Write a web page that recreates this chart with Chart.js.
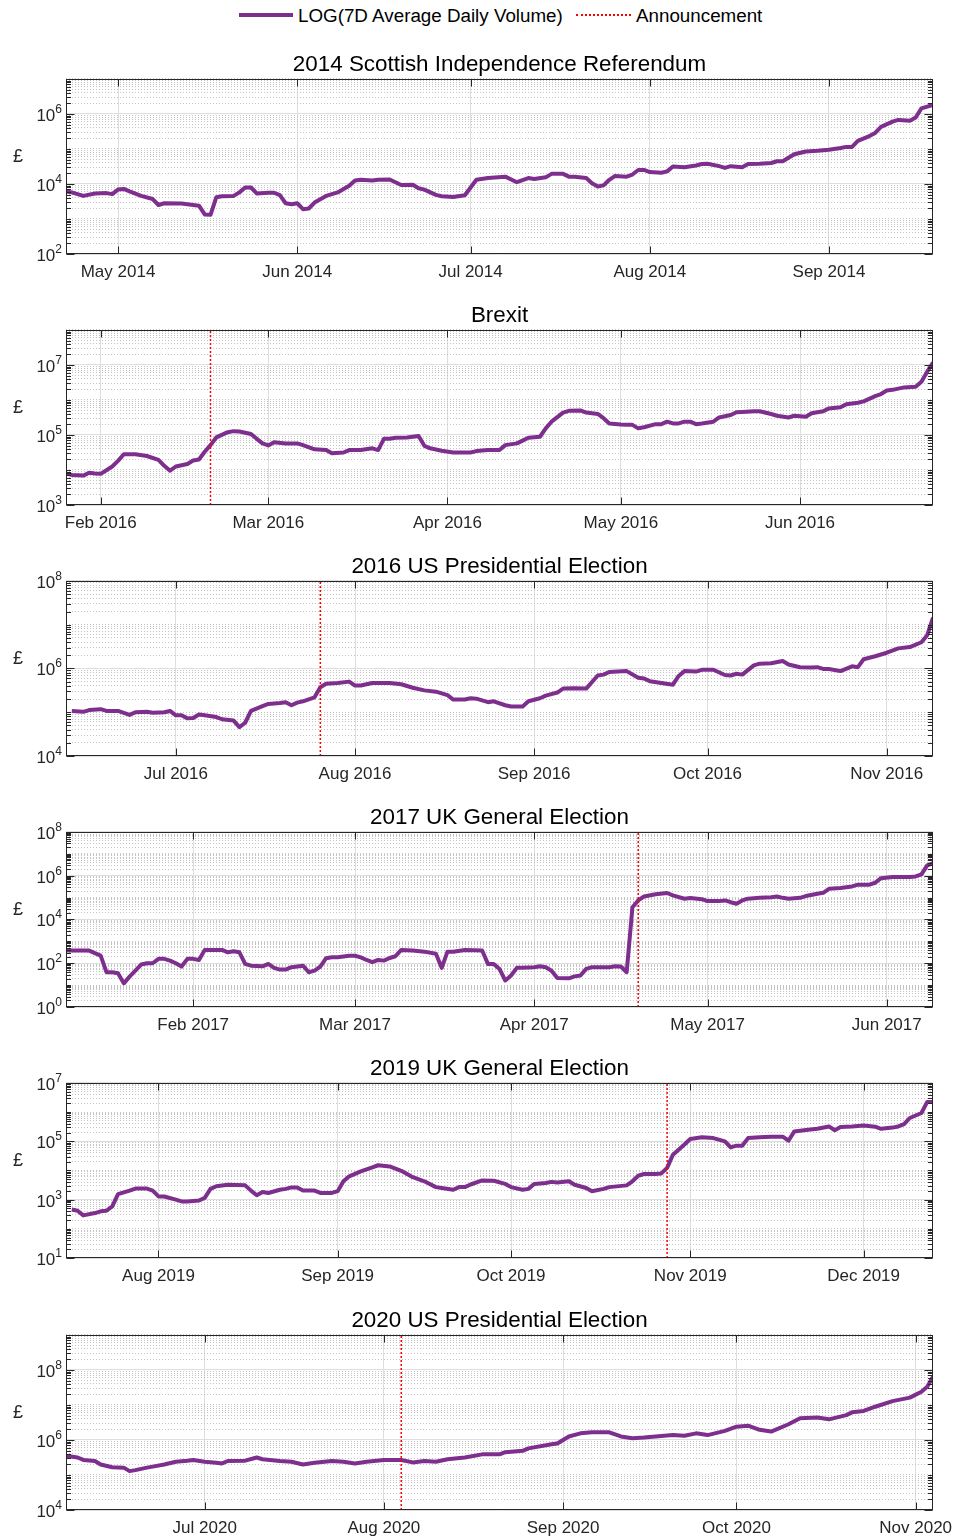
<!DOCTYPE html>
<html>
<head>
<meta charset="utf-8">
<title>Volume around announcements</title>
<script src="https://cdn.jsdelivr.net/npm/chart.js@4.4.1/dist/chart.umd.min.js"></script>
<style>
  html, body { margin: 0; padding: 0; background: #fff; }
  body { width: 955px; height: 1539px; position: relative; overflow: hidden;
         font-family: 'Liberation Sans', Arial, Helvetica, sans-serif; color: #000; }
  .panel { position: absolute; left: 0; width: 955px; height: 251px; }
  .swatch { position: absolute; }
  .lbl { position: absolute; top: 6px; font-size: 18.8px; line-height: 20px; white-space: nowrap; }
</style>
</head>
<body>
<div id="legend">
  <span class="swatch" style="left:239px; top:13px; width:54px; height:0; border-top:4px solid #7E2F8E;"></span>
  <span class="lbl" style="left:298px;">LOG(7D Average Daily Volume)</span>
  <span class="swatch" style="left:576px; top:14px; width:55px; height:0; border-top:2px dotted #FF0000;"></span>
  <span class="lbl" style="left:636px;">Announcement</span>
</div>
<div id="charts"></div>
<script>
(function() {
  'use strict';

  // ── Data (log10 of 7-day average daily volume, £) ───────────
  const panelTitles = [
    '2014 Scottish Independence Referendum',
    'Brexit',
    '2016 US Presidential Election',
    '2017 UK General Election',
    '2019 UK General Election',
    '2020 US Presidential Election'
  ];
  const xRanges = [
    ['2014-04-22', '2014-09-19'],
    ['2016-01-26', '2016-06-24'],
    ['2016-06-12', '2016-11-09'],
    ['2017-01-10', '2017-06-09'],
    ['2019-07-16', '2019-12-13'],
    ['2020-06-07', '2020-11-04']
  ];
  const yExpRanges = [[2, 7], [3, 8], [4, 8], [0, 8], [1, 7], [4, 9]];
  const yTickExps = [[2, 4, 6], [3, 5, 7], [4, 6, 8], [0, 2, 4, 6, 8], [1, 3, 5, 7], [4, 6, 8]];
  const announceDates = [null, '2016-02-20', '2016-07-26', '2017-04-19', '2019-10-28', '2020-08-04'];

  const scotDates = ['2014-04-22','2014-04-23','2014-04-25','2014-04-27','2014-04-29','2014-04-30','2014-05-01','2014-05-02','2014-05-03','2014-05-05',
    '2014-05-07','2014-05-08','2014-05-09','2014-05-12','2014-05-13','2014-05-15','2014-05-16','2014-05-17','2014-05-18','2014-05-19',
    '2014-05-21','2014-05-22','2014-05-23','2014-05-24','2014-05-25','2014-05-27','2014-05-28','2014-05-29','2014-05-30','2014-05-31',
    '2014-06-01','2014-06-02','2014-06-03','2014-06-04','2014-06-06','2014-06-08','2014-06-10','2014-06-11','2014-06-12','2014-06-14',
    '2014-06-15','2014-06-17','2014-06-18','2014-06-19','2014-06-21','2014-06-22','2014-06-23','2014-06-25','2014-06-26','2014-06-28',
    '2014-06-30','2014-07-01','2014-07-02','2014-07-04','2014-07-07','2014-07-09','2014-07-11','2014-07-12','2014-07-14','2014-07-15',
    '2014-07-17','2014-07-18','2014-07-19','2014-07-21','2014-07-22','2014-07-23','2014-07-24','2014-07-25','2014-07-26','2014-07-28',
    '2014-07-29','2014-07-30','2014-07-31','2014-08-01','2014-08-03','2014-08-04','2014-08-05','2014-08-07','2014-08-09','2014-08-10',
    '2014-08-11','2014-08-13','2014-08-14','2014-08-15','2014-08-17','2014-08-18','2014-08-20','2014-08-22','2014-08-23','2014-08-24',
    '2014-08-25','2014-08-26','2014-08-28','2014-08-30','2014-09-01','2014-09-03','2014-09-04','2014-09-05','2014-09-06','2014-09-08',
    '2014-09-09','2014-09-10','2014-09-12','2014-09-13','2014-09-15','2014-09-16','2014-09-17','2014-09-19'];
  const scotLogVol = [3.79,3.76,3.66,3.73,3.74,3.71,3.84,3.86,3.79,3.66,
    3.57,3.40,3.45,3.44,3.42,3.38,3.13,3.12,3.62,3.65,
    3.66,3.76,3.90,3.90,3.73,3.75,3.75,3.68,3.45,3.42,
    3.45,3.28,3.30,3.47,3.66,3.76,3.95,4.10,4.12,4.10,
    4.12,4.13,4.05,3.97,3.98,3.88,3.84,3.69,3.65,3.63,
    3.68,3.90,4.12,4.17,4.21,4.05,4.17,4.14,4.19,4.29,
    4.29,4.21,4.21,4.17,4.02,3.93,3.96,4.12,4.23,4.21,
    4.27,4.40,4.40,4.34,4.32,4.36,4.50,4.48,4.53,4.57,
    4.58,4.51,4.46,4.51,4.48,4.57,4.58,4.60,4.65,4.65,
    4.75,4.85,4.93,4.95,4.98,5.03,5.06,5.06,5.23,5.37,
    5.46,5.63,5.78,5.83,5.81,5.90,6.16,6.26];

  const brexitDates = ['2016-01-26','2016-01-27','2016-01-29','2016-01-30','2016-01-31','2016-02-01','2016-02-03','2016-02-04','2016-02-05','2016-02-07',
    '2016-02-09','2016-02-11','2016-02-12','2016-02-13','2016-02-14','2016-02-16','2016-02-17','2016-02-18','2016-02-19','2016-02-20',
    '2016-02-21','2016-02-23','2016-02-24','2016-02-25','2016-02-27','2016-02-28','2016-02-29','2016-03-01','2016-03-02','2016-03-04',
    '2016-03-06','2016-03-07','2016-03-09','2016-03-11','2016-03-12','2016-03-14','2016-03-15','2016-03-17','2016-03-19','2016-03-20',
    '2016-03-21','2016-03-22','2016-03-23','2016-03-25','2016-03-27','2016-03-28','2016-03-29','2016-03-31','2016-04-02','2016-04-03',
    '2016-04-05','2016-04-06','2016-04-08','2016-04-10','2016-04-11','2016-04-13','2016-04-14','2016-04-15','2016-04-17','2016-04-18',
    '2016-04-19','2016-04-21','2016-04-22','2016-04-24','2016-04-25','2016-04-27','2016-04-28','2016-04-29','2016-05-01','2016-05-02',
    '2016-05-03','2016-05-04','2016-05-05','2016-05-07','2016-05-08','2016-05-09','2016-05-10','2016-05-11','2016-05-12','2016-05-13',
    '2016-05-14','2016-05-15','2016-05-17','2016-05-18','2016-05-20','2016-05-21','2016-05-22','2016-05-24','2016-05-25','2016-05-27',
    '2016-05-28','2016-05-30','2016-05-31','2016-06-02','2016-06-03','2016-06-05','2016-06-06','2016-06-08','2016-06-09','2016-06-11',
    '2016-06-12','2016-06-14','2016-06-15','2016-06-16','2016-06-17','2016-06-19','2016-06-21','2016-06-22','2016-06-23','2016-06-24'];
  const brexitLogVol = [3.90,3.86,3.84,3.92,3.90,3.89,4.10,4.26,4.45,4.45,
    4.40,4.29,4.12,3.98,4.10,4.17,4.27,4.30,4.52,4.71,
    4.93,5.08,5.11,5.10,5.03,4.89,4.76,4.70,4.79,4.76,
    4.76,4.71,4.59,4.57,4.48,4.50,4.57,4.57,4.62,4.57,
    4.89,4.89,4.92,4.93,4.97,4.69,4.62,4.55,4.50,4.50,
    4.50,4.54,4.57,4.57,4.71,4.76,4.84,4.92,4.95,5.19,
    5.38,5.64,5.69,5.70,5.64,5.60,5.48,5.33,5.30,5.29,
    5.29,5.19,5.22,5.31,5.31,5.38,5.33,5.33,5.38,5.38,
    5.31,5.33,5.38,5.50,5.57,5.65,5.66,5.68,5.68,5.60,
    5.55,5.50,5.55,5.52,5.62,5.68,5.76,5.79,5.88,5.92,
    5.96,6.11,6.17,6.27,6.29,6.36,6.38,6.52,6.81,7.07];

  const us16Dates = ['2016-06-13','2016-06-15','2016-06-16','2016-06-18','2016-06-19','2016-06-21','2016-06-23','2016-06-24','2016-06-26','2016-06-27',
    '2016-06-29','2016-06-30','2016-07-01','2016-07-02','2016-07-03','2016-07-04','2016-07-05','2016-07-06','2016-07-08','2016-07-09',
    '2016-07-11','2016-07-12','2016-07-13','2016-07-14','2016-07-16','2016-07-17','2016-07-19','2016-07-20','2016-07-21','2016-07-22',
    '2016-07-23','2016-07-25','2016-07-26','2016-07-27','2016-07-29','2016-07-31','2016-08-01','2016-08-02','2016-08-04','2016-08-07',
    '2016-08-09','2016-08-11','2016-08-13','2016-08-15','2016-08-17','2016-08-18','2016-08-20','2016-08-21','2016-08-22','2016-08-24',
    '2016-08-25','2016-08-27','2016-08-28','2016-08-30','2016-08-31','2016-09-02','2016-09-03','2016-09-05','2016-09-06','2016-09-08',
    '2016-09-10','2016-09-12','2016-09-13','2016-09-14','2016-09-17','2016-09-19','2016-09-20','2016-09-21','2016-09-23','2016-09-25',
    '2016-09-26','2016-09-27','2016-09-29','2016-09-30','2016-10-02','2016-10-04','2016-10-05','2016-10-06','2016-10-07','2016-10-09',
    '2016-10-10','2016-10-12','2016-10-14','2016-10-15','2016-10-17','2016-10-19','2016-10-20','2016-10-21','2016-10-22','2016-10-24',
    '2016-10-26','2016-10-27','2016-10-28','2016-10-30','2016-11-01','2016-11-03','2016-11-05','2016-11-07','2016-11-08','2016-11-09'];
  const us16LogVol = [5.03,5.01,5.05,5.07,5.03,5.03,4.94,5.00,5.01,4.99,
    5.00,5.03,4.93,4.93,4.86,4.87,4.95,4.93,4.89,4.84,
    4.81,4.66,4.76,5.03,5.14,5.19,5.21,5.23,5.16,5.22,
    5.25,5.34,5.57,5.65,5.67,5.70,5.61,5.61,5.67,5.67,
    5.64,5.56,5.50,5.47,5.39,5.29,5.29,5.32,5.31,5.23,
    5.25,5.16,5.13,5.13,5.25,5.32,5.38,5.45,5.54,5.55,
    5.54,5.84,5.86,5.92,5.94,5.79,5.77,5.71,5.67,5.63,
    5.83,5.94,5.93,5.97,5.97,5.85,5.84,5.88,5.86,6.07,
    6.11,6.12,6.17,6.09,6.03,6.02,6.03,5.99,5.99,5.94,
    6.05,6.03,6.21,6.28,6.36,6.46,6.49,6.60,6.76,7.16];

  const uk17Dates = ['2017-01-10','2017-01-12','2017-01-14','2017-01-15','2017-01-16','2017-01-17','2017-01-18','2017-01-19','2017-01-20','2017-01-21',
    '2017-01-22','2017-01-23','2017-01-24','2017-01-25','2017-01-26','2017-01-27','2017-01-28','2017-01-29','2017-01-30','2017-01-31',
    '2017-02-01','2017-02-02','2017-02-03','2017-02-04','2017-02-06','2017-02-07','2017-02-08','2017-02-09','2017-02-10','2017-02-11',
    '2017-02-13','2017-02-14','2017-02-15','2017-02-16','2017-02-17','2017-02-18','2017-02-20','2017-02-21','2017-02-22','2017-02-23',
    '2017-02-24','2017-02-25','2017-02-26','2017-02-28','2017-03-01','2017-03-02','2017-03-03','2017-03-04','2017-03-05','2017-03-06',
    '2017-03-07','2017-03-08','2017-03-09','2017-03-11','2017-03-13','2017-03-15','2017-03-16','2017-03-17','2017-03-18','2017-03-20',
    '2017-03-23','2017-03-24','2017-03-25','2017-03-26','2017-03-27','2017-03-28','2017-03-29','2017-03-30','2017-04-01','2017-04-02',
    '2017-04-03','2017-04-04','2017-04-05','2017-04-07','2017-04-08','2017-04-09','2017-04-10','2017-04-11','2017-04-14','2017-04-15',
    '2017-04-16','2017-04-17','2017-04-18','2017-04-19','2017-04-20','2017-04-22','2017-04-24','2017-04-25','2017-04-27','2017-04-28',
    '2017-04-30','2017-05-01','2017-05-03','2017-05-04','2017-05-05','2017-05-06','2017-05-07','2017-05-08','2017-05-10','2017-05-12',
    '2017-05-13','2017-05-14','2017-05-15','2017-05-17','2017-05-18','2017-05-20','2017-05-21','2017-05-22','2017-05-24','2017-05-26',
    '2017-05-27','2017-05-29','2017-05-30','2017-05-31','2017-06-02','2017-06-05','2017-06-06','2017-06-07','2017-06-08','2017-06-09'];
  const uk17LogVol = [2.58,2.58,2.58,2.46,2.35,1.59,1.59,1.54,1.08,1.39,
    1.66,1.94,2.00,2.00,2.20,2.20,2.12,2.00,1.85,2.20,
    2.20,2.15,2.61,2.61,2.61,2.50,2.55,2.50,1.97,1.89,
    1.86,1.97,1.79,1.71,1.71,1.82,1.89,1.59,1.66,1.85,
    2.23,2.27,2.27,2.34,2.34,2.27,2.15,2.05,2.15,2.12,
    2.24,2.32,2.61,2.58,2.53,2.43,1.79,2.53,2.53,2.61,
    2.58,1.97,1.97,1.74,1.21,1.44,1.79,1.79,1.82,1.86,
    1.82,1.66,1.33,1.31,1.40,1.44,1.74,1.82,1.82,1.86,
    1.85,1.59,4.56,4.87,5.05,5.15,5.21,5.10,4.95,4.98,
    4.93,4.84,4.84,4.87,4.79,4.72,4.87,4.95,4.99,5.02,
    5.05,4.99,4.95,4.99,5.07,5.18,5.22,5.40,5.44,5.51,
    5.59,5.59,5.68,5.89,5.94,5.94,5.97,6.06,6.47,6.58];

  const uk19Dates = ['2019-07-17','2019-07-18','2019-07-19','2019-07-21','2019-07-22','2019-07-23','2019-07-24','2019-07-25','2019-07-27','2019-07-28',
    '2019-07-30','2019-07-31','2019-08-01','2019-08-02','2019-08-04','2019-08-05','2019-08-06','2019-08-08','2019-08-09','2019-08-10',
    '2019-08-11','2019-08-13','2019-08-16','2019-08-17','2019-08-18','2019-08-19','2019-08-20','2019-08-22','2019-08-23','2019-08-24',
    '2019-08-25','2019-08-26','2019-08-28','2019-08-29','2019-08-31','2019-09-01','2019-09-02','2019-09-03','2019-09-05','2019-09-07',
    '2019-09-08','2019-09-10','2019-09-12','2019-09-14','2019-09-16','2019-09-18','2019-09-19','2019-09-21','2019-09-22','2019-09-23',
    '2019-09-24','2019-09-26','2019-09-28','2019-09-30','2019-10-01','2019-10-03','2019-10-04','2019-10-05','2019-10-07','2019-10-08',
    '2019-10-09','2019-10-11','2019-10-12','2019-10-14','2019-10-15','2019-10-17','2019-10-18','2019-10-21','2019-10-22','2019-10-23',
    '2019-10-24','2019-10-26','2019-10-27','2019-10-28','2019-10-29','2019-10-31','2019-11-01','2019-11-03','2019-11-05','2019-11-07',
    '2019-11-08','2019-11-09','2019-11-10','2019-11-11','2019-11-13','2019-11-15','2019-11-17','2019-11-18','2019-11-19','2019-11-21',
    '2019-11-23','2019-11-25','2019-11-26','2019-11-27','2019-11-29','2019-12-01','2019-12-03','2019-12-04','2019-12-06','2019-12-07',
    '2019-12-08','2019-12-09','2019-12-11','2019-12-12','2019-12-13'];
  const uk19LogVol = [2.66,2.62,2.46,2.54,2.60,2.62,2.77,3.19,3.31,3.38,
    3.38,3.31,3.11,3.11,3.00,2.94,2.94,2.97,3.06,3.37,
    3.46,3.51,3.49,3.31,3.15,3.26,3.23,3.34,3.37,3.42,
    3.42,3.31,3.31,3.23,3.23,3.29,3.63,3.80,3.97,4.11,
    4.18,4.14,3.99,3.77,3.63,3.43,3.40,3.34,3.43,3.43,
    3.52,3.66,3.65,3.54,3.43,3.34,3.37,3.54,3.57,3.61,
    3.59,3.63,3.51,3.40,3.29,3.37,3.43,3.49,3.63,3.82,
    3.88,3.88,3.90,4.09,4.54,4.89,5.08,5.14,5.11,5.00,
    4.79,4.85,4.85,5.11,5.14,5.16,5.16,5.02,5.34,5.39,
    5.43,5.51,5.38,5.49,5.51,5.54,5.50,5.43,5.47,5.51,
    5.59,5.80,5.97,6.35,6.35];

  const us20Dates = ['2020-06-07','2020-06-09','2020-06-10','2020-06-12','2020-06-13','2020-06-15','2020-06-17','2020-06-18','2020-06-19','2020-06-21',
    '2020-06-22','2020-06-24','2020-06-26','2020-06-28','2020-06-29','2020-07-01','2020-07-03','2020-07-04','2020-07-05','2020-07-08',
    '2020-07-10','2020-07-11','2020-07-14','2020-07-16','2020-07-18','2020-07-20','2020-07-23','2020-07-25','2020-07-27','2020-07-29',
    '2020-08-01','2020-08-04','2020-08-06','2020-08-08','2020-08-10','2020-08-12','2020-08-15','2020-08-18','2020-08-21','2020-08-22',
    '2020-08-25','2020-08-26','2020-08-30','2020-08-31','2020-09-02','2020-09-04','2020-09-06','2020-09-09','2020-09-11','2020-09-13',
    '2020-09-15','2020-09-17','2020-09-20','2020-09-22','2020-09-24','2020-09-26','2020-09-29','2020-10-01','2020-10-03','2020-10-05',
    '2020-10-07','2020-10-10','2020-10-12','2020-10-15','2020-10-17','2020-10-20','2020-10-21','2020-10-23','2020-10-25','2020-10-28',
    '2020-10-31','2020-11-02','2020-11-03','2020-11-04'];
  const us20LogVol = [5.55,5.50,5.43,5.40,5.30,5.22,5.21,5.11,5.14,5.21,
    5.24,5.30,5.38,5.41,5.43,5.38,5.35,5.33,5.40,5.41,
    5.50,5.45,5.40,5.38,5.30,5.35,5.40,5.38,5.33,5.38,
    5.43,5.43,5.36,5.40,5.38,5.45,5.50,5.59,5.59,5.65,
    5.69,5.76,5.88,5.90,6.10,6.19,6.22,6.22,6.10,6.05,
    6.07,6.10,6.14,6.12,6.19,6.14,6.26,6.38,6.41,6.29,
    6.24,6.45,6.62,6.64,6.59,6.71,6.79,6.83,6.95,7.11,
    7.21,7.38,7.52,7.81];

  const seriesDates = [scotDates, brexitDates, us16Dates, uk17Dates, uk19Dates, us20Dates];
  const seriesLogVol = [scotLogVol, brexitLogVol, us16LogVol, uk17LogVol, uk19LogVol, us20LogVol];

  // ── Styling ─────────────────────────────────────────────────
  const FONT = "'Liberation Sans', Arial, Helvetica, sans-serif";
  const PURPLE = '#7E2F8E';
  const RED = '#FF0000';
  const AXIS = '#262626';
  const MAJOR_GRID = '#dedede';
  const MINOR_GRID = '#c4c4c4';

  Chart.defaults.font.family = FONT;
  Chart.defaults.color = AXIS;

  // ── Helpers ─────────────────────────────────────────────────
  const DAY = 864e5;
  const MONTHS = ['Jan','Feb','Mar','Apr','May','Jun','Jul','Aug','Sep','Oct','Nov','Dec'];
  const toDay = s => Date.parse(s + 'T00:00:00Z') / DAY;
  const monthLabel = d => {
    const dt = new Date(Math.round(d) * DAY);
    return MONTHS[dt.getUTCMonth()] + ' ' + dt.getUTCFullYear();
  };
  function monthStarts(lo, hi) {
    const out = [];
    const d = new Date(lo * DAY);
    let y = d.getUTCFullYear(), m = d.getUTCMonth() + 1;
    for (;;) {
      if (m > 11) { m = 0; y++; }
      const t = Date.UTC(y, m, 1) / DAY;
      if (t > hi) break;
      out.push(t);
      m++;
    }
    return out;
  }
  function logTicks(lo, hi) {
    const out = [];
    for (let e = lo; e < hi; e++) {
      for (let n = 1; n <= 9; n++) out.push({ value: n * Math.pow(10, e) });
    }
    out.push({ value: Math.pow(10, hi) });
    return out;
  }
  const isLabeled = (v, exps) => exps.some(e => Math.abs(Math.log10(v) - e) < 1e-9);

  // ── Frame, inner ticks, y labels with exponents, £ label ────
  const framePlugin = {
    id: 'frame',
    afterDraw(chart, args, opts) {
      const { ctx, chartArea: a, scales: { x, y } } = chart;
      const L = Math.round(a.left) + 0.5, R = Math.round(a.right) - 0.5;
      const T = Math.round(a.top) + 0.5, B = Math.round(a.bottom) - 0.5;
      ctx.save();
      ctx.strokeStyle = AXIS;
      ctx.lineWidth = 1;
      ctx.beginPath();
      y.ticks.forEach(t => {
        const py = Math.round(y.getPixelForValue(t.value)) + 0.5;
        const len = isLabeled(t.value, opts.exps) ? 8 : 4.5;
        ctx.moveTo(L, py); ctx.lineTo(L + len, py);
        ctx.moveTo(R, py); ctx.lineTo(R - len, py);
      });
      x.ticks.forEach(t => {
        const px = Math.round(x.getPixelForValue(t.value)) + 0.5;
        ctx.moveTo(px, B); ctx.lineTo(px, B - 7);
        ctx.moveTo(px, T); ctx.lineTo(px, T + 7);
      });
      ctx.stroke();
      ctx.strokeRect(L, T, R - L, B - T);

      ctx.fillStyle = AXIS;
      ctx.textBaseline = 'alphabetic';
      ctx.textAlign = 'left';
      const right = a.left - 4;
      opts.exps.forEach(e => {
        const py = y.getPixelForValue(Math.pow(10, e));
        const sup = String(e);
        ctx.font = '12px ' + FONT;
        const ws = ctx.measureText(sup).width;
        ctx.fillText(sup, right - ws, py - 1);
        ctx.font = '17px ' + FONT;
        const wb = ctx.measureText('10').width;
        ctx.fillText('10', right - ws - wb, py + 7);
      });

      ctx.font = '18px ' + FONT;
      ctx.textAlign = 'center';
      ctx.textBaseline = 'middle';
      ctx.fillText('£', 18, (a.top + a.bottom) / 2 - 9);
      ctx.restore();
    }
  };

  // ── Build one chart per event ───────────────────────────────
  const holder = document.getElementById('charts');

  panelTitles.forEach((title, i) => {
    const box = document.createElement('div');
    box.className = 'panel';
    box.style.top = Math.round(34 + 251.1 * i) + 'px';
    const canvas = document.createElement('canvas');
    canvas.width = 955;
    canvas.height = 251;
    box.appendChild(canvas);
    holder.appendChild(box);

    const [xLo, xHi] = xRanges[i].map(toDay);
    const [eLo, eHi] = yExpRanges[i];
    const exps = yTickExps[i];
    const months = monthStarts(xLo, xHi);

    const datasets = [{
      label: 'LOG(7D Average Daily Volume)',
      data: seriesDates[i].map((d, k) => ({ x: toDay(d), y: Math.pow(10, seriesLogVol[i][k]) })),
      borderColor: PURPLE,
      borderWidth: 4,
      borderJoinStyle: 'round',
      pointRadius: 0,
      tension: 0,
      order: 1
    }];
    if (announceDates[i]) {
      const ax = toDay(announceDates[i]);
      datasets.push({
        label: 'Announcement',
        data: [{ x: ax, y: Math.pow(10, eLo) }, { x: ax, y: Math.pow(10, eHi) }],
        borderColor: RED,
        borderWidth: 1.5,
        borderDash: [2, 2],
        pointRadius: 0,
        order: 0
      });
    }

    new Chart(canvas, {
      type: 'line',
      data: { datasets },
      options: {
        responsive: false,
        animation: false,
        // left padding equals the axis gutter so the title centres over the plot
        layout: { padding: { left: 66, right: 22, top: 0, bottom: 0 } },
        plugins: {
          legend: { display: false },
          tooltip: { enabled: false },
          title: {
            display: true,
            text: title,
            color: '#000',
            font: { size: 22.4, weight: 'normal', lineHeight: 1.2 },
            padding: { top: 17.6, bottom: 0.5 }
          },
          frame: { exps }
        },
        scales: {
          x: {
            type: 'linear',
            min: xLo,
            max: xHi,
            afterBuildTicks: sc => { sc.ticks = months.map(v => ({ value: v })); },
            afterFit: sc => { sc.height = 31; sc.paddingLeft = 0; sc.paddingRight = 0; },
            ticks: {
              callback: v => monthLabel(v),
              autoSkip: false,
              maxRotation: 0,
              padding: 8,
              color: AXIS,
              font: { size: 17 }
            },
            grid: { color: MAJOR_GRID, lineWidth: 1, drawTicks: false },
            border: { display: false }
          },
          y: {
            type: 'logarithmic',
            min: Math.pow(10, eLo),
            max: Math.pow(10, eHi),
            afterBuildTicks: sc => { sc.ticks = logTicks(eLo, eHi); },
            afterFit: sc => { sc.width = 0; sc.paddingTop = 0; sc.paddingBottom = 0; },
            ticks: { display: false },
            grid: {
              color: c => (c.tick && isLabeled(c.tick.value, exps)) ? MAJOR_GRID : MINOR_GRID,
              lineWidth: 1,
              drawTicks: false
            },
            border: {
              display: false,
              dash: c => (c.tick && !isLabeled(c.tick.value, exps)) ? [1, 2] : []
            }
          }
        }
      },
      plugins: [framePlugin]
    });
  });
})();
</script>
</body>
</html>
